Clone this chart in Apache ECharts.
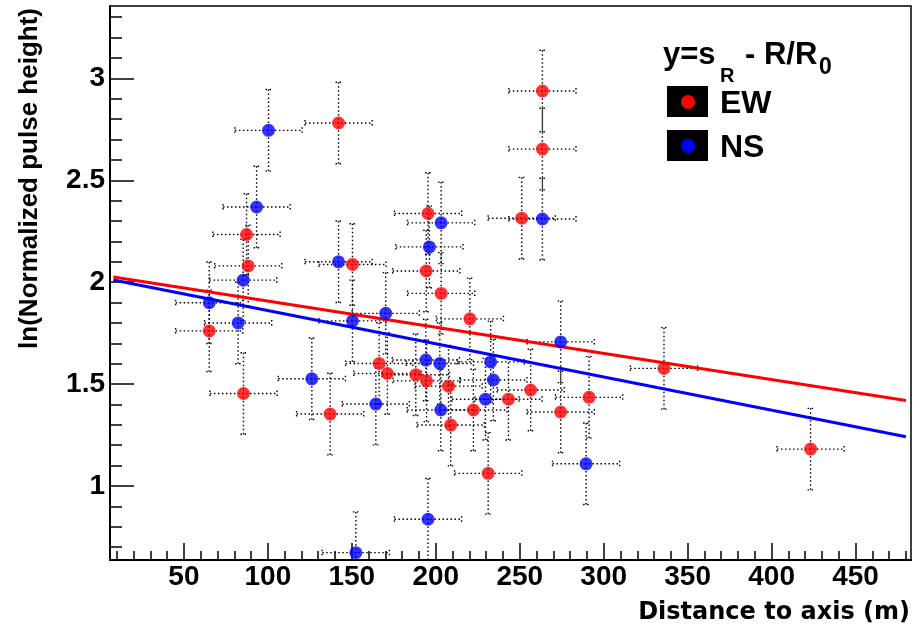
<!DOCTYPE html>
<html>
<head>
<meta charset="utf-8">
<script src="https://cdn.jsdelivr.net/npm/echarts@6/dist/echarts.min.js"></script>
<style>
html,body{margin:0;padding:0;background:#fff;}
#c{width:922px;height:628px;}
</style>
</head>
<body>
<div id="c"></div>
<script>
// ---- data ----
const xMajorTicks = [50, 100, 150, 200, 250, 300, 350, 400, 450];
const yMajorTicks = [1, 1.5, 2, 2.5, 3];
const xRange = [6, 483];
const yRange = [0.637, 3.355];

// EW (red) points: [distance (m), ln(normalized pulse height)]
const ewData = [
  [142.1, 2.781], [87.3, 2.234], [88.3, 2.080], [150.4, 2.087], [263.5, 2.938],
  [263.5, 2.653], [251.2, 2.314], [195.4, 2.337], [194.3, 2.055], [203.2, 1.945],
  [65.1, 1.761], [85.5, 1.454], [137.1, 1.353], [166.3, 1.601], [171.2, 1.552],
  [188.1, 1.546], [194.5, 1.516], [207.6, 1.490], [220.3, 1.820], [243.3, 1.426],
  [222.4, 1.373], [208.9, 1.299], [231.2, 1.062], [335.9, 1.577], [256.5, 1.471],
  [291.3, 1.435], [274.4, 1.363], [423.2, 1.181]
];
// NS (blue) points
const nsData = [
  [100.4, 2.745], [93.3, 2.369], [85.3, 2.010], [142.1, 2.100], [263.5, 2.310],
  [203.2, 2.291], [196.2, 2.173], [65.1, 1.899], [82.3, 1.800], [126.2, 1.526],
  [150.4, 1.810], [170.2, 1.847], [164.3, 1.402], [152.4, 0.673], [194.1, 1.618],
  [202.4, 1.601], [232.7, 1.609], [234.3, 1.520], [229.6, 1.426], [203.0, 1.373],
  [274.4, 1.707], [289.5, 1.109], [195.4, 0.837]
];
const xErr = 20;
const yErr = 0.2;
// fit lines y = s_R - R/R0 (endpoints)
const fitEW = [[8, 2.025], [480, 1.420]];
const fitNS = [[8, 2.011], [480, 1.242]];

// minor tick positions
const xMinorTicks = [];
for (let v = 10; v <= 480; v += 10) xMinorTicks.push(v);
const yMinorTicks = [];
for (let k = 7; k <= 33; k++) yMinorTicks.push(+(k / 10).toFixed(1));

// ---- chart ----
const chart = echarts.init(document.getElementById('c'), null, {renderer: 'canvas'});

function errRender(params, api) {
  const x = api.value(0), y = api.value(1);
  const l = api.coord([x - xErr, y]), r = api.coord([x + xErr, y]);
  const t = api.coord([x, y + yErr]), b = api.coord([x, y - yErr]);
  const st = {stroke: '#000', lineWidth: 1.4, lineDash: [1.5, 2.5], fill: null};
  const cap = 3;
  return {
    type: 'group',
    children: [
      {type: 'line', shape: {x1: l[0], y1: l[1], x2: r[0], y2: r[1]}, style: st},
      {type: 'line', shape: {x1: t[0], y1: t[1], x2: b[0], y2: b[1]}, style: st},
      {type: 'line', shape: {x1: l[0], y1: l[1] - cap, x2: l[0], y2: l[1] + cap}, style: st},
      {type: 'line', shape: {x1: r[0], y1: r[1] - cap, x2: r[0], y2: r[1] + cap}, style: st},
      {type: 'line', shape: {x1: t[0] - cap, y1: t[1], x2: t[0] + cap, y2: t[1]}, style: st},
      {type: 'line', shape: {x1: b[0] - cap, y1: b[1], x2: b[0] + cap, y2: b[1]}, style: st}
    ]
  };
}

const tickFont = {fontFamily: 'Liberation Sans', fontWeight: 'bold', fontSize: 28, color: '#000'};

const option = {
  animation: false,
  backgroundColor: '#fff',
  grid: {left: 110, right: 11, top: 6, bottom: 68, show: true, borderColor: '#000', borderWidth: 1.5},
  xAxis: [
    {
      type: 'value', min: xRange[0], max: xRange[1], position: 'bottom',
      axisLine: {show: true, lineStyle: {color: '#000', width: 2}},
      axisTick: {show: true, inside: true, length: 17, customValues: xMajorTicks, lineStyle: {color: '#000', width: 1.5}},
      axisLabel: Object.assign({show: true, margin: 3, customValues: xMajorTicks}, tickFont),
      splitLine: {show: false}
    },
    {
      type: 'value', min: xRange[0], max: xRange[1], position: 'bottom',
      axisLine: {show: false},
      axisTick: {show: true, inside: true, length: 9, customValues: xMinorTicks, lineStyle: {color: '#000', width: 1.5}},
      axisLabel: {show: false},
      splitLine: {show: false}
    }
  ],
  yAxis: [
    {
      type: 'value', min: yRange[0], max: yRange[1], position: 'left',
      axisLine: {show: true, lineStyle: {color: '#000', width: 2}},
      axisTick: {show: true, inside: true, length: 24, customValues: yMajorTicks, lineStyle: {color: '#000', width: 1.5}},
      axisLabel: Object.assign({show: true, margin: 5, customValues: yMajorTicks}, tickFont),
      splitLine: {show: false}
    },
    {
      type: 'value', min: yRange[0], max: yRange[1], position: 'left',
      axisLine: {show: false},
      axisTick: {show: true, inside: true, length: 12, customValues: yMinorTicks, lineStyle: {color: '#000', width: 1.5}},
      axisLabel: {show: false},
      splitLine: {show: false}
    }
  ],
  series: [
    {type: 'custom', name: 'EW err', data: ewData, renderItem: errRender, clip: true, z: 1, silent: true},
    {type: 'custom', name: 'NS err', data: nsData, renderItem: errRender, clip: true, z: 1, silent: true},
    {type: 'line', name: 'NS fit', data: fitNS, showSymbol: false, symbol: 'none', lineStyle: {color: '#0000ff', width: 3}, z: 2},
    {type: 'line', name: 'EW fit', data: fitEW, showSymbol: false, symbol: 'none', lineStyle: {color: '#ff0000', width: 3}, z: 3},
    {type: 'scatter', name: 'EW', data: ewData, symbol: 'circle', symbolSize: 13, itemStyle: {color: '#ff0000'}, z: 4},
    {type: 'scatter', name: 'NS', data: nsData, symbol: 'circle', symbolSize: 13, itemStyle: {color: '#0000ff'}, z: 5}
  ],
  graphic: [
    // axis titles
    {type: 'text', x: 30, y: 8, rotation: Math.PI / 2,
     style: {text: 'ln(Normalized pulse height)', fontFamily: 'Liberation Sans', fontWeight: 'bold', fontSize: 26, fill: '#000', align: 'right', verticalAlign: 'middle'}},
    {type: 'text', x: 910, y: 613,
     style: {text: 'Distance to axis (m)', fontFamily: 'DejaVu Sans', fontWeight: 'bold', fontSize: 24, fill: '#000', align: 'right', verticalAlign: 'middle'}},
    // legend header
    {type: 'text', x: 663, y: 55, style: {text: 'y=s', fontFamily: 'Liberation Sans', fontWeight: 'bold', fontSize: 31, fill: '#000', align: 'left', verticalAlign: 'middle'}},
    {type: 'text', x: 720, y: 76, style: {text: 'R', fontFamily: 'Liberation Sans', fontWeight: 'bold', fontSize: 20, fill: '#000', align: 'left', verticalAlign: 'middle'}},
    {type: 'text', x: 745, y: 55, style: {text: '- R/R', fontFamily: 'Liberation Sans', fontWeight: 'bold', fontSize: 31, fill: '#000', align: 'left', verticalAlign: 'middle'}},
    {type: 'text', x: 819, y: 68, style: {text: '0', fontFamily: 'Liberation Sans', fontWeight: 'bold', fontSize: 23, fill: '#000', align: 'left', verticalAlign: 'middle'}},
    // legend entries
    {type: 'rect', shape: {x: 667, y: 86, width: 41, height: 31}, style: {fill: '#000'}},
    {type: 'circle', shape: {cx: 688, cy: 102, r: 7}, style: {fill: '#ff0000'}},
    {type: 'text', x: 720, y: 104, style: {text: 'EW', fontFamily: 'Liberation Sans', fontWeight: 'bold', fontSize: 32, fill: '#000', align: 'left', verticalAlign: 'middle'}},
    {type: 'rect', shape: {x: 667, y: 130, width: 41, height: 31}, style: {fill: '#000'}},
    {type: 'circle', shape: {cx: 688, cy: 146, r: 7}, style: {fill: '#0000ff'}},
    {type: 'text', x: 720, y: 148, style: {text: 'NS', fontFamily: 'Liberation Sans', fontWeight: 'bold', fontSize: 32, fill: '#000', align: 'left', verticalAlign: 'middle'}}
  ]
};
chart.setOption(option);
</script>
</body>
</html>
